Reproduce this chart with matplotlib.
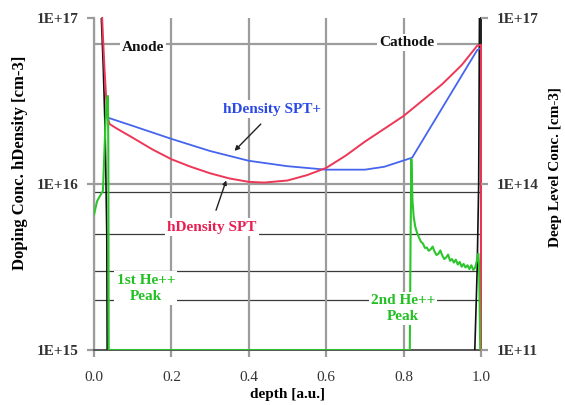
import matplotlib
matplotlib.use("Agg")
import matplotlib.pyplot as plt
from matplotlib.ticker import NullLocator

plt.rcParams['font.family'] = 'Liberation Serif'

# hole density, standard SPT model (left axis)
spt_depth = [0.021, 0.027, 0.034, 0.04, 0.06, 0.1, 0.15, 0.2, 0.25, 0.3, 0.35, 0.4, 0.44,
             0.5, 0.55, 0.6, 0.65, 0.7, 0.75, 0.8, 0.85, 0.9, 0.95, 0.99, 1.0, 1.0]
spt_conc = [1.0e17, 5.0e16, 2.6e16, 2.3e16, 2.15e16, 1.9e16, 1.62e16, 1.41e16, 1.27e16, 1.16e16,
            1.08e16, 1.03e16, 1.02e16, 1.05e16, 1.13e16, 1.25e16, 1.48e16, 1.8e16, 2.15e16,
            2.57e16, 3.2e16, 4.0e16, 5.2e16, 6.8e16, 6.9e16, 1.0e15]

# hole density, SPT+ model (left axis)
sptp_depth = [0.038, 0.1, 0.2, 0.3, 0.4, 0.5, 0.6, 0.7, 0.75, 0.822, 0.99, 1.0]
sptp_conc = [2.5e16, 2.24e16, 1.87e16, 1.58e16, 1.38e16, 1.28e16, 1.22e16, 1.22e16, 1.27e16,
             1.44e16, 6.4e16, 6.6e16]

# doping profile at the two contacts (left axis)
dop_anode_depth = [0.019, 0.024, 0.029, 0.033, 0.034]
dop_anode_conc = [1.0e17, 5.0e16, 2.0e16, 5.0e15, 1.0e15]
dop_cathode_depth = [0.996, 0.994, 0.99, 0.984]
dop_cathode_conc = [1.0e17, 1.0e16, 3.0e15, 1.0e15]

# deep level concentration (right axis)
dl_depth = [0.0, 0.008, 0.015, 0.023, 0.026, 0.03, 0.034, 0.036, 0.037, 0.038,
            0.816, 0.818, 0.82, 0.823, 0.826, 0.83, 0.835, 0.84, 0.845, 0.85, 0.855, 0.86,
            0.865, 0.87, 0.875, 0.88, 0.885, 0.89, 0.895, 0.9, 0.905, 0.91, 0.915, 0.92,
            0.925, 0.93, 0.935, 0.94, 0.945, 0.95, 0.955, 0.96, 0.965, 0.97, 0.975, 0.98,
            0.985, 0.99, 0.993, 0.995, 0.998]
dl_conc = [2.8e13, 4.9e13, 6.0e13, 7.5e13, 2.6e14, 1.4e15, 3.5e15, 3.9e15, 4.0e14, 1.0e11,
           1.0e11, 1.0e13, 2.8e14, 4.9e13, 2.6e13, 1.7e13, 1.3e13, 1.07e13, 9.0e12, 8.4e12,
           7.0e12, 7.1e12, 6.2e12, 6.6e12, 7.4e12, 6.0e12, 5.2e12, 5.5e12, 6.3e12, 5.1e12,
           4.4e12, 4.7e12, 5.3e12, 4.1e12, 4.4e12, 3.8e12, 4.3e12, 3.5e12, 3.9e12, 3.2e12,
           3.6e12, 3.1e12, 3.4e12, 2.9e12, 3.4e12, 2.8e12, 3.1e12, 4.3e12, 5.5e12, 3.6e12, 1.0e11]

x_ticks = [0.0, 0.2, 0.4, 0.6, 0.8, 1.0]
x_tick_labels = ['0.0', '0.2', '0.4', '0.6', '0.8', '1.0']
left_ticks = [1e15, 1e16, 1e17]
left_tick_labels = ['1E+15', '1E+16', '1E+17']
right_ticks = [1e11, 1e14, 1e17]
right_tick_labels = ['1E+11', '1E+14', '1E+17']

# horizontal reference levels on the doping axis
light_levels = [7e16, 1e16]
dark_levels = [9e15, 5e15, 3e15, 2e15]

RED = '#ee3656'
BLUE = '#4565ee'
GREEN = '#2cc62c'
GRID = '#9c9c9c'

fig = plt.figure(figsize=(5.65, 4.05), dpi=100)
ax = fig.add_axes([94 / 565, 55 / 405, 387 / 565, 332 / 405])
ax2 = ax.twinx()

ax.set_xlim(0, 1)
ax.set_yscale('log')
ax.set_ylim(1e15, 1e17)
ax2.set_yscale('log')
ax2.set_ylim(1e11, 1e17)

ax.set_xticks(x_ticks, labels=x_tick_labels)
ax.set_yticks(left_ticks, labels=left_tick_labels)
ax2.set_yticks(right_ticks, labels=right_tick_labels)
for a in (ax, ax2):
    a.yaxis.set_minor_locator(NullLocator())
    a.tick_params(direction='out', length=5, width=1.6, color=GRID,
                  labelsize=11, labelcolor='#333333', pad=6)
ax.tick_params(axis='x', pad=10)
for lab in ax.get_yticklabels() + ax2.get_yticklabels():
    lab.set_fontweight('bold')

ax.grid(axis='x', color=GRID, lw=1.6)
for lv in light_levels:
    ax.axhline(lv, color=GRID, lw=1.6, zorder=1)
for lv in dark_levels:
    ax.axhline(lv, color='#3a3a3a', lw=0.9, zorder=1)

ax.spines['top'].set_visible(False)
ax.spines['left'].set_color(GRID)
ax.spines['left'].set_linewidth(1.6)
ax.spines['bottom'].set_color('#555555')
ax.spines['bottom'].set_linewidth(1.4)
ax.spines['right'].set_color('#222222')
ax.spines['right'].set_linewidth(1.4)
for s in ax2.spines.values():
    s.set_visible(False)

ax.plot(dop_anode_depth, dop_anode_conc, color='#111111', lw=1.2, zorder=3)
ax.plot(dop_cathode_depth, dop_cathode_conc, color='#111111', lw=1.2, zorder=3)
ax.plot(sptp_depth, sptp_conc, color=BLUE, lw=1.3, zorder=4, clip_on=False)
ax.plot(spt_depth, spt_conc, color=RED, lw=1.4, zorder=5, clip_on=False)
ax2.plot(dl_depth, dl_conc, color=GREEN, lw=1.5, zorder=3)

ax.annotate('', xy=(0.358, 1.54e16), xytext=(0.436, 2.36e16),
            arrowprops=dict(arrowstyle='-|>', color='#222222', lw=1.0, mutation_scale=7))
ax.annotate('', xy=(0.344, 1.09e16), xytext=(0.313, 6.7e15),
            arrowprops=dict(arrowstyle='-|>', color='#222222', lw=1.0, mutation_scale=6))

box = dict(facecolor='white', edgecolor='none', pad=1.5)
labels = [
    (0.127, 6.6e16, 'Anode', '#111111'),
    (0.809, 7.1e16, 'Cathode', '#111111'),
    (0.46, 2.83e16, 'hDensity SPT+', '#2a4ae6'),
    (0.305, 5.5e15, 'hDensity SPT', '#e81e50'),
    (0.134, 2.36e15, '1st He++\nPeak', '#22c022'),
    (0.798, 1.77e15, '2nd He++\nPeak', '#22c022'),
]
for x, y, s, c in labels:
    ax2.text(x, y, s, transform=ax.transData, ha='center', va='center', color=c,
             fontsize=11, fontweight='bold', linespacing=1.3, bbox=box, zorder=10)

ax.set_xlabel('depth [a.u.]', fontsize=11, fontweight='bold', labelpad=3)
ax.set_ylabel('Doping Conc. hDensity [cm-3]', fontsize=12, fontweight='bold')
ax.yaxis.set_label_coords(-0.170, 0.563)
ax2.set_ylabel('Deep Level Conc. [cm-3]', fontsize=11, fontweight='bold', rotation=90)
ax2.yaxis.set_label_coords(1.176, 0.551)

fig.savefig('out.png', dpi=100)
